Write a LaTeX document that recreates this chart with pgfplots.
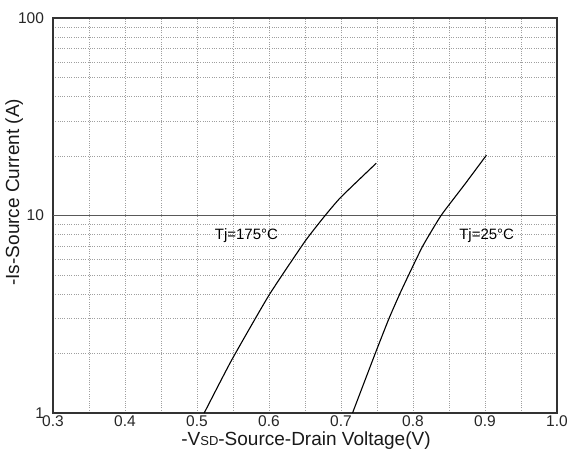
\documentclass[border=0pt]{standalone}
\usepackage{pgfplots}
\pgfplotsset{compat=1.18}
\usepackage{fontspec}
\setmainfont{Liberation Sans}
\begin{document}
\begin{tikzpicture}
\begin{axis}[
  name=ax,
  scale only axis,
  width=504pt, height=395pt,
  xmin=0.3, xmax=1.0,
  ymode=log, ymin=1, ymax=100,
  xtick={0.3,0.4,...,1.0},
  minor x tick num=1,
  ytick={1,10,100},
  yticklabels={1,10,100},
  xticklabel style={/pgf/number format/fixed, /pgf/number format/fixed zerofill, /pgf/number format/precision=1, yshift=1pt},
  /pgf/number format/assume math mode=true,
  tick label style={font=\fontsize{15.5}{17}\selectfont, text=black!85},
  yticklabel style={xshift=-5.5pt},
  xmajorgrids, xminorgrids, yminorgrids,
  major grid style={dash pattern=on 1pt off 1.3pt, gray!75, line width=0.6pt},
  minor grid style={dash pattern=on 1pt off 1.3pt, gray!75, line width=0.6pt},
  extra y ticks={10},
  extra y tick labels={},
  extra y tick style={grid=major, major grid style={solid, black!65, line width=0.9pt}},
  tick style={draw=none},
  axis line style={black!80, line width=1.2pt},
  xlabel={-V{\fontsize{13}{14}\selectfont SD}-Source-Drain Voltage(V)},
  ylabel={-Is-Source Current (A)},
  label style={font=\fontsize{19}{21}\selectfont, text=black!90},
  xlabel style={at={(axis description cs:0.502,-0.070)}, anchor=center},
  ylabel style={at={(axis description cs:-0.077,0.559)}, anchor=center},
  clip=true,
]
\addplot[black, line width=1.1pt, smooth, tension=0.3] coordinates {
 (0.510,1.0) (0.548,1.85) (0.600,3.95) (0.650,7.4) (0.678,10) (0.700,12.4) (0.749,18.4)
};
\addplot[black, line width=1.1pt, smooth, tension=0.3] coordinates {
 (0.716,1.0) (0.7475,2.0) (0.7665,3.0) (0.7815,4.0) (0.794,5.0) (0.8135,7.0) (0.839,10) (0.872,14.4) (0.902,20.2)
};
\node[font=\fontsize{15}{17}\selectfont, anchor=west, inner sep=0pt] at (axis cs:0.5245,7.9) {Tj=175°C};
\node[font=\fontsize{15}{17}\selectfont, anchor=west, inner sep=0pt] at (axis cs:0.8640,7.9) {Tj=25°C};
\end{axis}
\pgfresetboundingbox
\path[use as bounding box] ([shift={(-53pt,-38.3pt)}]ax.south west) rectangle ([shift={(17pt,18pt)}]ax.north east);
\end{tikzpicture}
\end{document}
